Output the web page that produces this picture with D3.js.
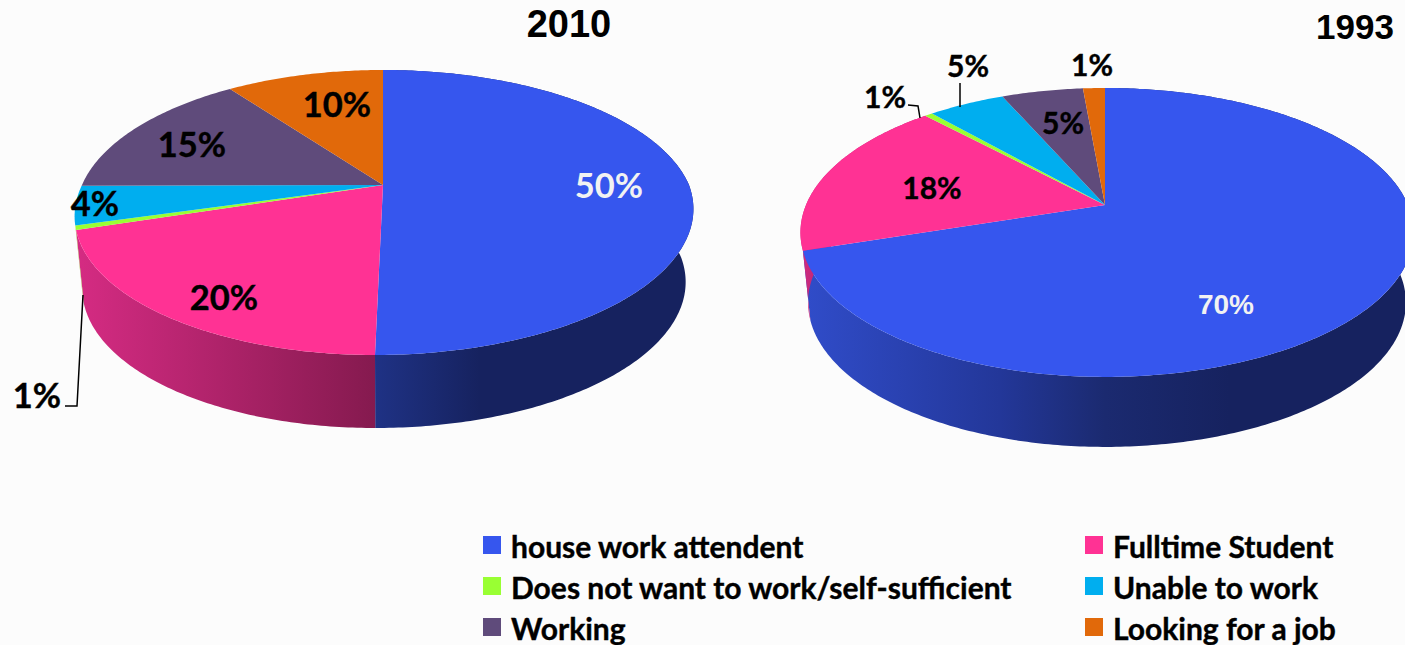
<!DOCTYPE html>
<html>
<head>
<meta charset="utf-8">
<script src="https://cdn.jsdelivr.net/npm/d3@7"></script>
<style>
    body { margin: 0; background: #fcfcfc; overflow: hidden; }
    text { font-family: Lato, "Open Sans", sans-serif; font-weight: 700; fill: #000; }
    .title, .arial { font-family: "Liberation Sans", Arial, sans-serif; }
</style>
</head>
<body>
<div id="chart"></div>
<script>
const categories = ["house work attendent", "Fulltime Student", "Does not want to work/self-sufficient", "Unable to work", "Working", "Looking for a job"];
const colors = ["#3656ee", "#ff3294", "#99ff33", "#00aeef", "#5f4b7b", "#e1690a"];
// slice sizes as drawn, the printed labels are these rounded
const values2010 = [50, 20, 0.5, 4.4, 15.1, 10];
const values1993 = [70, 18, 0.5, 4.9, 5.2, 1.4];

// pie geometry
const pies = [
    {
        year: "2010", values: values2010, titleX: 569, titleY: 37, titleSize: 38,
        cx: 383, cy: 185, aLeft: 301, aRight: 306, b: 101.5, k: -0.193, shear: -8, depth: 73, narrow: 0.975,
        fontSize: 34.5,
        labels: [[609, 186, "#f2f2f2"], [224, 298], [37, 396], [95, 204], [192, 145], [337, 105]],
        leaders: [[[65, 406], [77, 406], [83, 295]]],
        walls: [
            [[375, "#1f3285"], [480, "#16225f"], [692, "#16225f"]],
            [[80, "#d42b82"], [375, "#851a4f"]],
            [[70, "#a8b84a"], [90, "#a8b84a"]]
        ]
    },
    {
        year: "1993", values: values1993, titleX: 1355, titleY: 39, titleSize: 35,
        cx: 1105, cy: 205, aLeft: 299, aRight: 303, b: 100.3, k: -0.19, shear: 0, depth: 70, narrow: 0.975,
        fontSize: 30,
        labels: [[1226, 304, "#f2f2f2", "arial", 28], [932, 188], [885, 97], [968, 66], [1063, 123], [1092, 65]],
        leaders: [[[908, 105], [918, 106], [920, 118]], [[960, 83], [960, 107]]],
        walls: [
            [[805, "#304cc9"], [1000, "#233799"], [1105, "#1b2a70"], [1230, "#16225f"], [1405, "#16225f"]],
            [[800, "#d42b82"], [812, "#c4287a"]]
        ]
    }
];

const legendX = [483, 1085];
const legendY = [547, 588, 629];

const svg = d3.select("#chart").append("svg")
    .attr("width", 1405)
    .attr("height", 645);
const defs = svg.append("defs");

const color = d3.scaleOrdinal().domain(categories).range(colors);
const pie = d3.pie().sort(null).startAngle(0).endAngle(2 * Math.PI);
const line = d3.line();

pies.forEach((p, pi) => {
    // perspective view of the round top of the pie
    const topPoint = angle => {
        const u = Math.sin(angle);
        const v = -Math.cos(angle);
        const w = 1 + p.k * v;
        return [
            p.cx + (u < 0 ? p.aLeft : p.aRight) * u / w + p.shear * Math.max(v, 0),
            (p.cy + p.b * v) / w
        ];
    };
    const lowPoint = angle => {
        const t = topPoint(angle);
        return [p.cx + (t[0] - p.cx) * p.narrow, t[1] + p.depth];
    };
    const sample = (a0, a1) => {
        const n = Math.max(2, Math.ceil((a1 - a0) * 80));
        return d3.range(n + 1).map(i => a0 + (a1 - a0) * i / n);
    };

    const arcs = pie(p.values);
    const g = svg.append("g");

    // side walls first, the top face covers whatever is behind.
    // only the slices that face the viewer have one
    arcs.forEach((d, i) => {
        const stops = p.walls[i];
        if (!stops) return;
        const angles = sample(d.startAngle, d.endAngle);
        const id = `wall-${pi}-${i}`;
        const x0 = stops[0][0];
        const x1 = stops[stops.length - 1][0];
        const grad = defs.append("linearGradient")
            .attr("id", id)
            .attr("gradientUnits", "userSpaceOnUse")
            .attr("x1", x0).attr("x2", x1)
            .attr("y1", 0).attr("y2", 0);
        stops.forEach(s => grad.append("stop")
            .attr("offset", (s[0] - x0) / (x1 - x0))
            .attr("stop-color", s[1]));
        const pts = angles.map(topPoint).concat(angles.slice().reverse().map(lowPoint));
        g.append("path")
            .attr("d", line(pts) + "Z")
            .attr("fill", `url(#${id})`);
    });

    arcs.forEach((d, i) => {
        const pts = [[p.cx, p.cy]].concat(sample(d.startAngle, d.endAngle).map(topPoint));
        g.append("path")
            .attr("d", line(pts) + "Z")
            .attr("fill", color(categories[i]));
    });

    p.leaders.forEach(l => {
        g.append("path")
            .attr("d", line(l))
            .attr("fill", "none")
            .attr("stroke", "#000")
            .attr("stroke-width", 1.5);
    });

    p.values.forEach((v, i) => {
        const lab = p.labels[i];
        g.append("text")
            .attr("class", lab[3] || null)
            .attr("x", lab[0])
            .attr("y", lab[1])
            .attr("dy", "0.36em")
            .attr("text-anchor", "middle")
            .attr("font-size", lab[4] || p.fontSize)
            .style("fill", lab[2] || "#000")
            .style("stroke", lab[2] ? "none" : "#000")
            .style("stroke-width", 0.4)
            .text(Math.round(v) + "%");
    });

    svg.append("text")
        .attr("class", "title")
        .attr("x", p.titleX)
        .attr("y", p.titleY)
        .attr("text-anchor", "middle")
        .attr("font-size", p.titleSize)
        .text(p.year);
});

const legend = svg.selectAll(".legend")
    .data(categories)
    .join("g")
    .attr("class", "legend")
    .attr("transform", (d, i) => `translate(${legendX[i % 2]},${legendY[Math.floor(i / 2)]})`);

legend.append("rect")
    .attr("y", -11)
    .attr("width", 18)
    .attr("height", 18)
    .attr("fill", d => color(d));

legend.append("text")
    .attr("x", 28)
    .attr("dy", "0.36em")
    .attr("font-size", 30)
    .style("stroke", "#000")
    .style("stroke-width", 0.4)
    .text(d => d);
</script>
</body>
</html>
